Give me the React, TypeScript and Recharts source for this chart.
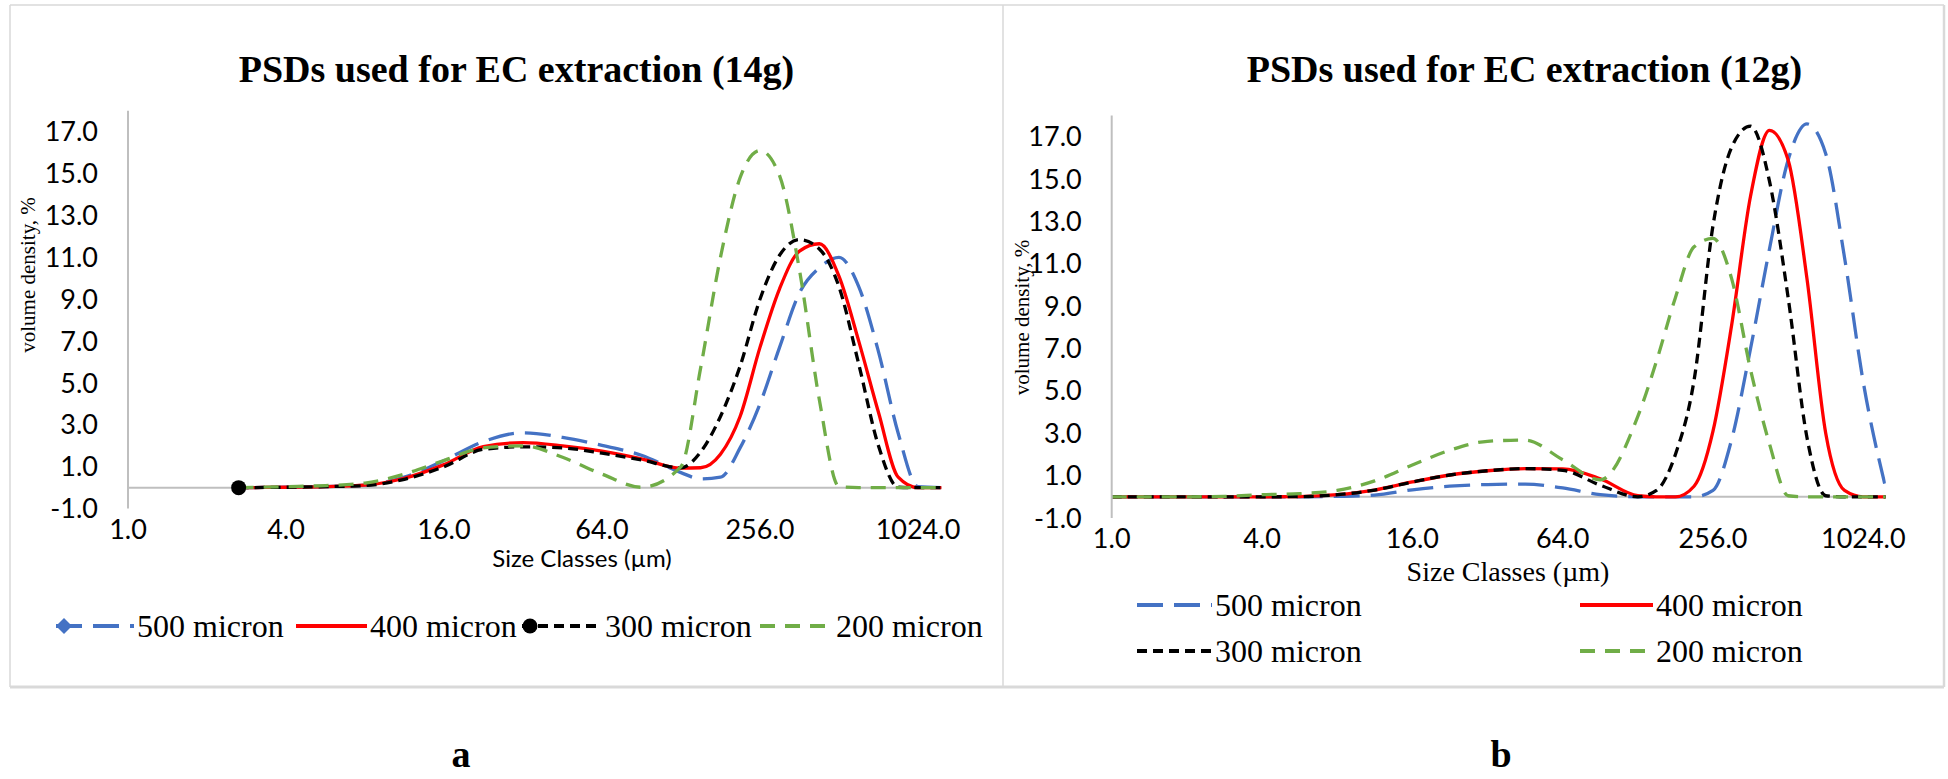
import React from 'react';
import { LineChart, Line, XAxis, YAxis, ReferenceLine } from 'recharts';

const SERIF = '"Liberation Serif", "Times New Roman", Times, serif';
const SANS = 'Lato, Carlito, Calibri, sans-serif';

const SERIES = ['500 micron', '400 micron', '300 micron', '200 micron'];
const SIZE_TICKS = [1, 4, 16, 64, 256, 1024];
const DENSITY_TICKS = [-1, 1, 3, 5, 7, 9, 11, 13, 15, 17];

// (a) 14g – size classes in µm and volume density in %
const SIZES_14G = [2.64, 4, 5.66, 8, 11.3, 16, 22.6, 32, 45.3, 64, 90.5, 128, 152, 181, 215, 256, 304, 362, 431, 512, 609, 724, 861, 1024, 1260];
const A_500 = [0, 0.02, 0.05, 0.12, 0.5, 1.3, 2.2, 2.62, 2.4, 2.02, 1.55, 0.72, 0.42, 0.5, 1.9, 4.0, 6.7, 9.3, 10.5, 11.0, 9.6, 6.5, 2.6, 0.05, 0];
const A_400 = [0, 0.02, 0.05, 0.12, 0.45, 1.1, 1.96, 2.15, 2.0, 1.75, 1.38, 0.93, 0.95, 1.6, 3.4, 6.7, 9.5, 11.3, 11.65, 10.1, 7.0, 3.6, 0.5, 0, 0];
const A_300 = [0, 0.02, 0.05, 0.1, 0.4, 1.0, 1.83, 1.95, 1.9, 1.65, 1.32, 0.95, 1.7, 3.4, 5.8, 9.0, 11.1, 11.85, 11.4, 9.6, 5.9, 2.0, 0.02, 0, 0];
const A_200 = [0, 0.05, 0.1, 0.22, 0.65, 1.3, 1.9, 2.0, 1.45, 0.65, 0.02, 1.0, 5.7, 11.0, 14.8, 16.1, 14.9, 10.4, 4.2, 0.05, 0, 0, 0, 0, 0];

// (b) 12g
const SIZES_12G = [1, 1.41, 2, 2.83, 4, 5.66, 8, 11.3, 16, 22.6, 32, 45.3, 64, 90.5, 128, 152, 181, 215, 256, 304, 362, 431, 512, 609, 724, 861, 1024, 1260];
const B_500 = [0, 0, 0, 0, 0, 0, 0.02, 0.08, 0.33, 0.5, 0.58, 0.6, 0.42, 0.1, 0, 0, 0, 0, 0.3, 2.7, 7.0, 11.7, 15.9, 17.6, 16.2, 11.3, 5.4, 0.4];
const B_400 = [0, 0, 0, 0, 0, 0.01, 0.1, 0.32, 0.7, 1.03, 1.23, 1.33, 1.32, 0.85, 0.05, 0, 0, 0.5, 3.1, 8.1, 14.2, 17.3, 15.9, 10.3, 3.0, 0.3, 0, 0];
const B_300 = [0, 0, 0, 0, 0, 0.01, 0.1, 0.32, 0.7, 1.03, 1.23, 1.33, 1.25, 0.55, 0, 0.3, 2.0, 5.5, 12.8, 16.5, 17.5, 14.9, 9.4, 2.8, 0.05, 0, 0, 0];
const B_200 = [0, 0, 0, 0.02, 0.1, 0.15, 0.3, 0.75, 1.5, 2.2, 2.62, 2.68, 1.75, 0.8, 3.8, 6.4, 9.4, 11.8, 12.2, 10.3, 6.0, 2.5, 0.05, 0, 0, 0, 0, 0];

const KEYS = ['s500', 's400', 's300', 's200'];
const LINE_STYLE = [
  { color: '#4472C4', dash: '26 11' },
  { color: '#FF0000', dash: undefined },
  { color: '#000000', dash: '10 6' },
  { color: '#70AD47', dash: '15 10' },
];

function buildRows(sizes: number[], cols: number[][]) {
  return sizes.map((size, i) => {
    const row: any = { size };
    KEYS.forEach((k, j) => { row[k] = cols[j][i]; });
    return row;
  });
}

const diamondAtStart = (p: any) =>
  p.index === 0 ? (
    <polygon key="dm" points={`${p.cx},${p.cy - 6} ${p.cx + 6},${p.cy} ${p.cx},${p.cy + 6} ${p.cx - 6},${p.cy}`} fill="#4472C4" />
  ) : <g key={`dm${p.index}`} />;

const circleAtStart = (p: any) =>
  p.index === 0 ? <circle key="cm" cx={p.cx} cy={p.cy} r={7.5} fill="#000" /> : <g key={`cm${p.index}`} />;

const fmt = (v: any) => Number(v).toFixed(1);
const tickStyle = { fontSize: 27, fill: '#000', fontFamily: SANS };

function Panel({ left, width, sizes, cols, margin, markers }: any) {
  const rows = buildRows(sizes, cols);
  return (
    <div style={{ position: 'absolute', left, top: 0 }}>
      <LineChart width={width} height={690} data={rows} margin={margin}>
        <XAxis dataKey="size" type="number" scale="log" domain={[1, 1260]} allowDataOverflow ticks={SIZE_TICKS} interval={0}
          tickFormatter={fmt} axisLine={false} tickLine={false} tickMargin={5} height={40} tick={tickStyle} />
        <YAxis type="number" domain={[-1, 18]} allowDataOverflow ticks={DENSITY_TICKS} interval={0} tickFormatter={fmt}
          axisLine={{ stroke: '#BFBFBF', strokeWidth: 2 }} tickLine={false} tickMargin={24} width={60} tick={tickStyle} />
        <ReferenceLine y={0} stroke="#BFBFBF" strokeWidth={2} />
        {KEYS.map((k, j) => (
          <Line key={k} dataKey={k} name={SERIES[j]} type="monotone" stroke={LINE_STYLE[j].color} strokeWidth={3.3}
            strokeDasharray={LINE_STYLE[j].dash}
            dot={markers && j === 0 ? diamondAtStart : markers && j === 2 ? circleAtStart : false}
            activeDot={false} isAnimationActive={false} />
        ))}
      </LineChart>
    </div>
  );
}

function LegendItem({ j, x1, x2, y, marker }: any) {
  const st = LINE_STYLE[j];
  return (
    <g>
      <line x1={x1} x2={x2} y1={y} y2={y} stroke={st.color} strokeWidth={4} strokeDasharray={st.dash} />
      {marker === 'diamond' && <polygon points={`${x1 + 8},${y - 8} ${x1 + 16},${y} ${x1 + 8},${y + 8} ${x1},${y}`} fill={st.color} />}
      {marker === 'circle' && <circle cx={x1 + 8} cy={y} r={7.5} fill={st.color} />}
      <text x={x2 + 3} y={y + 10.5} fontSize={32} fontFamily={SERIF} fill="#000">{SERIES[j]}</text>
    </g>
  );
}

export default function App() {
  const legendA = [
    { x1: 56, x2: 134, marker: 'diamond' },
    { x1: 296, x2: 367 },
    { x1: 522, x2: 602, marker: 'circle' },
    { x1: 760, x2: 833 },
  ];
  const legendB = [
    { x1: 1137, x2: 1212, y: 605 },
    { x1: 1580, x2: 1653, y: 605 },
    { x1: 1137, x2: 1212, y: 651 },
    { x1: 1580, x2: 1653, y: 651 },
  ];
  return (
    <div style={{ position: 'absolute', left: 0, top: 0, width: 1948, height: 779, background: '#fff', overflow: 'hidden' }}>
      <Panel left={0} width={1003} sizes={SIZES_14G} cols={[A_500, A_400, A_300, A_200]} markers
        margin={{ top: 110.8, right: 61.4, bottom: 141.4, left: 68 }} />
      <Panel left={1003} width={940} sizes={SIZES_12G} cols={[B_500, B_400, B_300, B_200]}
        margin={{ top: 115.5, right: 57.2, bottom: 132, left: 48.7 }} />
      <svg width={1948} height={779} style={{ position: 'absolute', left: 0, top: 0, pointerEvents: 'none' }}>
        <g stroke="#D9D9D9" fill="none">
          <line x1={10} x2={1944} y1={5} y2={5} strokeWidth={1.5} />
          <line x1={10} x2={10} y1={5} y2={687} strokeWidth={1.5} />
          <line x1={1944} x2={1944} y1={5} y2={687} strokeWidth={2.5} />
          <line x1={1003} x2={1003} y1={5} y2={687} strokeWidth={1.5} />
          <line x1={10} x2={1944} y1={687} y2={687} strokeWidth={3} />
        </g>
        <text x={516.5} y={82} textAnchor="middle" fontSize={38} fontWeight="bold" fontFamily={SERIF}>PSDs used for EC extraction (14g)</text>
        <text x={1524.5} y={82} textAnchor="middle" fontSize={38} fontWeight="bold" fontFamily={SERIF}>PSDs used for EC extraction (12g)</text>
        <text x={582} y={567} textAnchor="middle" fontSize={24} fontFamily={SANS}>Size Classes (µm)</text>
        <text x={1508} y={581} textAnchor="middle" fontSize={28} fontFamily={SERIF}>Size Classes (µm)</text>
        <text transform="translate(28,275) rotate(-90)" textAnchor="middle" dominantBaseline="central" fontSize={21} fontFamily={SERIF}>volume density, %</text>
        <text transform="translate(1022,317.5) rotate(-90)" textAnchor="middle" dominantBaseline="central" fontSize={21} fontFamily={SERIF}>volume density, %</text>
        {legendA.map((it, j) => <LegendItem key={`a${j}`} j={j} x1={it.x1} x2={it.x2} y={626} marker={it.marker} />)}
        {legendB.map((it, j) => <LegendItem key={`b${j}`} j={j} x1={it.x1} x2={it.x2} y={it.y} />)}
        <text x={461} y={767} textAnchor="middle" fontSize={38} fontWeight="bold" fontFamily={SERIF}>a</text>
        <text x={1501} y={767} textAnchor="middle" fontSize={38} fontWeight="bold" fontFamily={SERIF}>b</text>
      </svg>
    </div>
  );
}
